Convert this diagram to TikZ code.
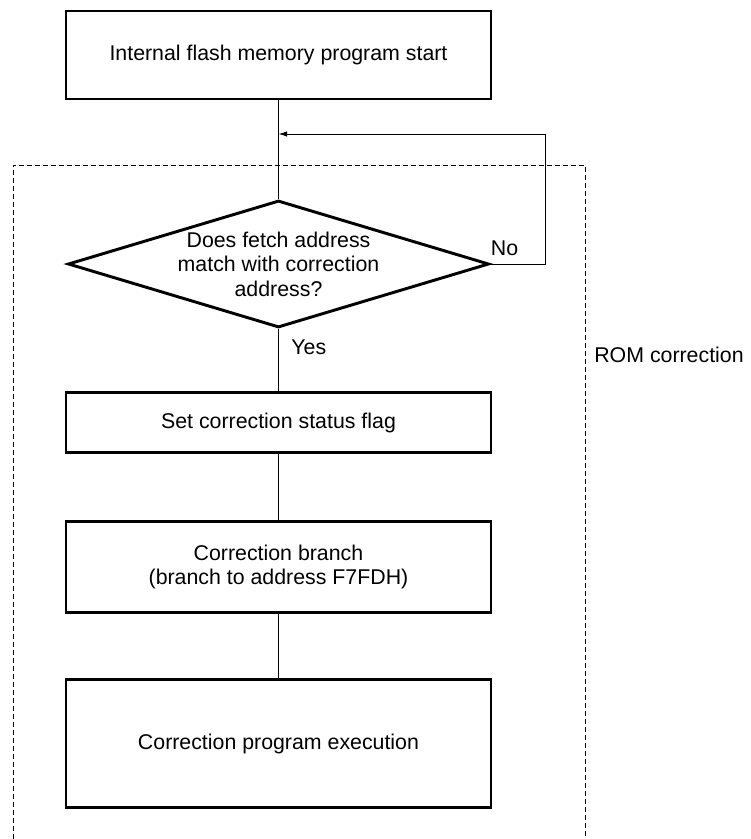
\documentclass[tikz,border=0pt]{standalone}
\usepackage{fontspec}
\setmainfont{Liberation Sans}
\usetikzlibrary{shapes.geometric,arrows.meta}

\begin{document}
\begin{tikzpicture}[x=0.75pt, y=-0.75pt, >={Latex[length=6.5pt,width=4.2pt]},
    font=\fontsize{16pt}{18.4pt}\selectfont,
    box/.style={draw, line width=2.2pt, rectangle, minimum width=318.75pt, inner sep=0pt, align=center},
    decision/.style={draw, line width=2.2pt, diamond, aspect=3.3, inner sep=-3pt, minimum width=315.75pt, minimum height=95.25pt, align=center},
    flow/.style={line width=0.75pt},
    romframe/.style={line width=0.75pt, dash pattern=on 3.4pt off 2.6pt}]
    \useasboundingbox (0,0) rectangle (750,839);

    \node (start) [box, minimum height=66pt] at (278.5, 55) {Internal flash memory program start};
    \node (match) [decision] at (278.5, 264) {Does fetch address\\match with correction\\address?};
    \node (flag) [box, minimum height=45pt] at (278.5, 422.5) {Set correction status flag};
    \node (branch) [box, minimum height=68.25pt] at (278.5, 567) {Correction branch\\(branch to address F7FDH)};
    \node (exec) [box, minimum height=96pt] at (278.5, 743.5) {Correction program execution};
    \node (rom) at (669, 355) {ROM correction};
    \coordinate (merge) at (278.5, 134);

    % dashed area of the ROM correction
    \draw[romframe] (13, 839) |- (585, 165) -- (585, 839);

    \draw[flow] (start.south) -- (match.north);
    \draw[flow] (match.south) -- node[right=6pt, pos=0.29]{Yes} (flag.north);
    \draw[flow] (flag.south) -- (branch.north);
    \draw[flow] (branch.south) -- (exec.north);

    \draw[flow, ->] (match.east) node[above right, inner xsep=0pt, inner ysep=6pt]{No} -- ++(55,0) |- (merge);
\end{tikzpicture}
\end{document}
